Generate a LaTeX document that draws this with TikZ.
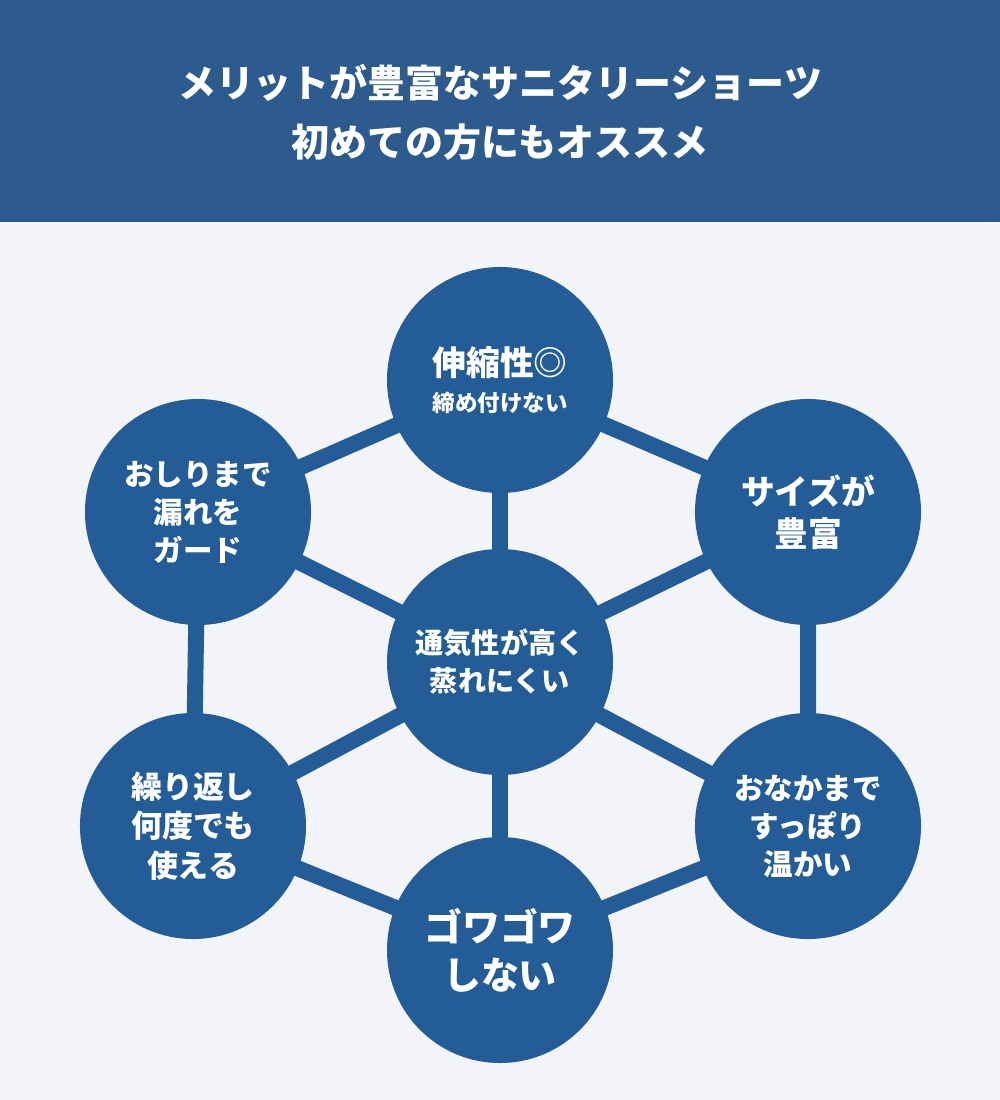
\documentclass[tikz,border=0pt]{standalone}
\usepackage{fontspec}
\newfontfamily\cjk{Noto Sans CJK JP}
\definecolor{head}{HTML}{2D5B8D}
\definecolor{ball}{HTML}{235C96}
\definecolor{back}{HTML}{F2F4F7}
\begin{document}
\begin{tikzpicture}[x=0.025cm,y=-0.025cm,font=\cjk\bfseries]
\tikzstyle{ball}=[circle,fill=ball,minimum size=5.65cm,inner sep=0pt,text=white,align=center,font=\cjk\bfseries\fontsize{24}{30}\selectfont]
\tikzstyle{link}=[draw=ball,line width=0.4cm]
\fill[back](0,0)rectangle(1000,1100);
\fill[head](0,0)rectangle(1000,222);
\node(title)at(500,112)[text=white,align=center,font=\cjk\bfseries\fontsize{27}{42}\selectfont]{メリットが豊富なサニタリーショーツ\\初めての方にもオススメ};
\coordinate(c)at(500,662);
\coordinate(t)at(500,380);
\coordinate(ur)at(808,512);
\coordinate(lr)at(808,826);
\coordinate(b)at(500,950);
\coordinate(ll)at(193,826);
\coordinate(ul)at(198,512);
\foreach \p in {t,ur,lr,b,ll,ul}{\draw[link](c)--(\p);}
\draw[link](t)--(ur)--(lr)--(b)--(ll)--(ul)--cycle;
\node(top)at(t)[ball]{伸縮性◎\\[-4pt]{\fontsize{16}{20}\selectfont 締め付けない}};
\node(right1)at(ur)[ball]{サイズが\\豊富};
\node(right2)at(lr)[ball,font=\cjk\bfseries\fontsize{21}{27}\selectfont]{おなかまで\\すっぽり\\温かい};
\node(bottom)at(b)[ball,font=\cjk\bfseries\fontsize{27}{34}\selectfont]{ゴワゴワ\\しない};
\node(left2)at(ll)[ball,font=\cjk\bfseries\fontsize{22}{28}\selectfont]{繰り返し\\何度でも\\使える};
\node(left1)at(ul)[ball,font=\cjk\bfseries\fontsize{21}{27}\selectfont]{おしりまで\\漏れを\\ガード};
\node(center)at(c)[ball,font=\cjk\bfseries\fontsize{20}{27}\selectfont]{通気性が高く\\蒸れにくい};
\end{tikzpicture}
\end{document}
